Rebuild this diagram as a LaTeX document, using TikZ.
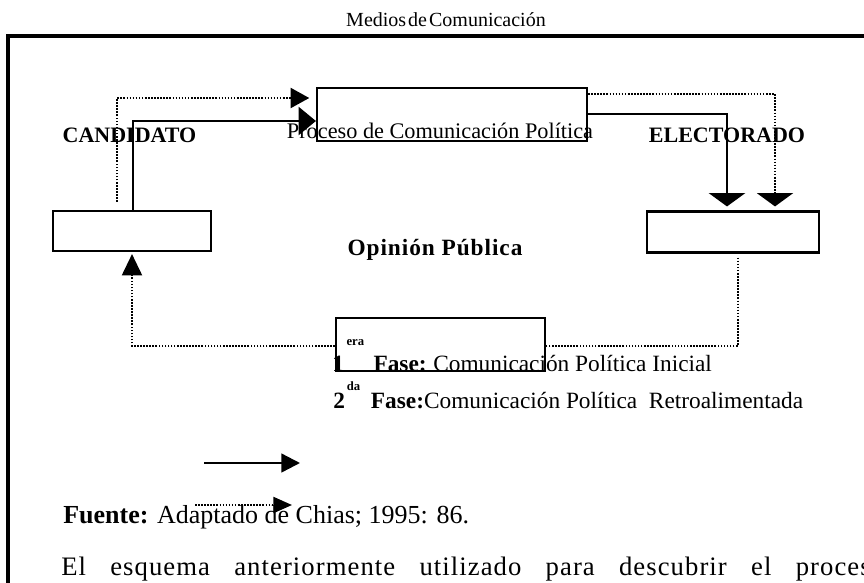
\documentclass[tikz,border=0pt]{standalone}
\usepackage{fontspec}
\setmainfont{Liberation Serif}
\usetikzlibrary{arrows.meta}
\pgfmathsetlengthmacro\px{0.75pt}
\begin{document}
\begin{tikzpicture}[x=\px, y=-\px,
  caja/.style={draw, line width=1.6pt, inner sep=0pt},
  texto/.style={inner sep=0pt, anchor=base},
  fase1/.style={line width=1.8pt},
  fase2/.style={line width=1.6pt, dash pattern=on 1.2pt off 1.1pt},
  flecha/.style 2 args={-{Triangle[length=#1, width=#2]}}]
\useasboundingbox (0,0) rectangle (864,582);
\draw[line width=2.5pt] (8,600) -- (8,36) -- (880,36);
\node[texto, font=\fontsize{15}{18}\selectfont] (titulo) at (446,26) {\spaceskip=1.5pt\relax Medios de Comunicación};
\node[caja, minimum width=270*\px, minimum height=53*\px] (proceso) at (452,114.5) {};
\node[caja, minimum width=158*\px, minimum height=40*\px] (candidato) at (132,231) {};
\node[caja, minimum width=172*\px, minimum height=41*\px] (electorado) at (733,232) {};
\node[caja, minimum width=209*\px, minimum height=53*\px] (medios) at (440.5,344.5) {};
\node[texto, font=\bfseries\fontsize{16.5}{20}\selectfont] (lcandidato) at (129.5,142) {CANDIDATO};
\node[texto, font=\fontsize{16.7}{20}\selectfont] (lproceso) at (440,138) {Proceso de Comunicación Política};
\node[texto, font=\bfseries\fontsize{16.5}{20}\selectfont] (lelectorado) at (727,142) {ELECTORADO};
\node[texto, font=\bfseries\fontsize{17.5}{21}\selectfont\addfontfeatures{LetterSpace=4}] (lopinion) at (435,255) {Opinión Pública};
\coordinate (c1) at (133,121);
\coordinate (c2) at (117,98);
\coordinate (e1) at (727,114);
\coordinate (e2) at (775,94);
\coordinate (m1) at (738,346);
\coordinate (m2) at (132,346);
\draw[fase1, flecha={13pt}{21pt}] (candidato.north -| c1) |- (proceso.west |- c1);
\draw[fase2, flecha={14pt}{15pt}, shorten <=6pt, shorten >=5pt] (candidato.north -| c2) |- (proceso.west |- c2);
\draw[fase1, line width=2.2pt, flecha={10pt}{27pt}, shorten >=3pt] (proceso.east |- e1) -| (electorado.north -| e1);
\draw[fase2, flecha={10pt}{27pt}, shorten >=3pt] (proceso.east |- e2) -| (electorado.north -| e2);
\draw[fase2, shorten <=3pt] (electorado.south -| m1) |- (medios.east |- m1);
\draw[fase2, flecha={16pt}{15pt}, shorten >=1.5pt] (medios.west |- m2) -| (candidato.south -| m2);
\node[texto, anchor=base west, font=\fontsize{17.5}{21}\selectfont] (lfase1) at (332,371)
  {\textbf{1\hspace{2pt}\raisebox{19.5pt}{\fontsize{9.5}{10}\selectfont era}\hspace{7pt}Fase:}\hspace{5pt}Comunicación Política Inicial};
\node[texto, anchor=base west, font=\fontsize{17.5}{21}\selectfont] (lfase2) at (333,408)
  {\textbf{2\hspace{1.5pt}\raisebox{13.5pt}{\fontsize{9.5}{10}\selectfont da}\hspace{8pt}Fase:}Comunicación Política\ \ Retroalimentada};
\coordinate (s0) at (204,463);
\coordinate (s1) at (300,463);
\coordinate (d0) at (195,505);
\coordinate (d1) at (292,505);
\draw[fase1, flecha={14pt}{14pt}] (s0) -- (s1);
\draw[fase2, flecha={14pt}{12pt}] (d0) -- (d1);
\node[texto, anchor=base west, font=\fontsize{19.5}{23}\selectfont] (fuente) at (63,523) {\textbf{Fuente:} Adaptado de Chias; 1995: 86.};
\node[texto, anchor=base west, font=\fontsize{20}{24}\selectfont\addfontfeatures{LetterSpace=4}] (parrafo) at (61,575)
  {\makebox[607pt][s]{El esquema anteriormente utilizado para descubrir el proces}};
\end{tikzpicture}
\end{document}
